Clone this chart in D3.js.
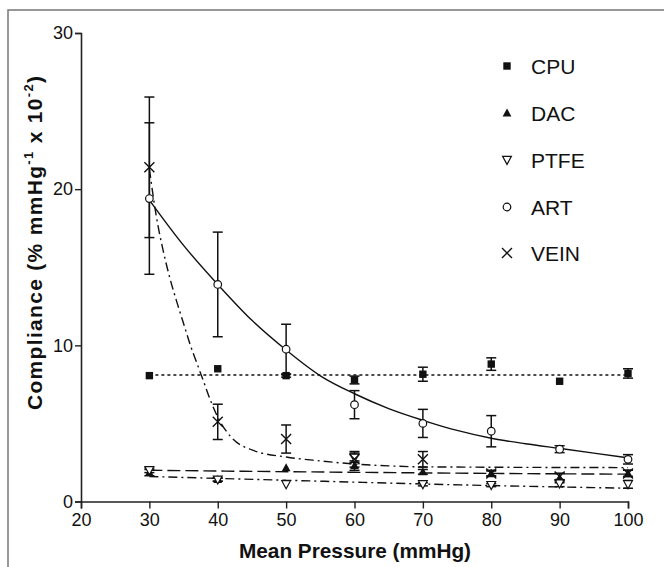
<!DOCTYPE html>
<html><head><meta charset="utf-8">
<script src="https://cdn.jsdelivr.net/npm/d3@7"></script>
<style>
html,body{margin:0;padding:0;background:#fff;}
svg{display:block;font-family:"Liberation Sans",Arial,sans-serif;}
</style></head>
<body><svg id="chart" width="664" height="567"></svg>
<script>
// ---------- data ----------
const pressures = [30, 40, 50, 60, 70, 80, 90, 100];
const cpuMean  = [8.06, 8.5, 8.06, 7.78, 8.15, 8.8, 7.7, 8.2];
const cpuErr   = [0, 0, 0.1, 0.25, 0.45, 0.4, 0, 0.3];
const dacMean  = [1.85, 1.4, 2.15, 2.3, 1.9, 1.8, 1.5, 1.8];
const dacErr   = [0.2, 0.1, 0, 0.3, 0.15, 0.15, 0.3, 0.2];
const ptfeMean = [2.0, 1.4, 1.1, 2.8, 1.1, 1.05, 1.15, 1.1];
const ptfeErr  = [0.15, 0.1, 0, 0.3, 0.1, 0.1, 0.2, 0.25];
const artMean  = [19.4, 13.9, 9.75, 6.2, 5.0, 4.5, 3.35, 2.7];
const artErr   = [4.85, 3.35, 1.6, 0.9, 0.9, 1.0, 0.22, 0.3];
const veinMean = [21.4, 5.1, 4.0, 2.7, 2.7, 1.8, 1.6, 1.8];
const veinErr  = [4.5, 1.13, 0.9, 0.5, 0.5, 0.2, 0.2, 0.2];

// fitted curves
const cpuFitX  = [30, 100];
const cpuFitY  = [8.1, 8.1];
const dacFitX  = [30, 45, 60, 80, 100];
const dacFitY  = [2.0, 1.93, 1.87, 1.8, 1.75];
const ptfeFitX = [30, 40, 50, 60, 70, 80, 90, 100];
const ptfeFitY = [1.6, 1.48, 1.36, 1.24, 1.12, 1.02, 0.93, 0.85];
const artFitX  = [30, 35, 40, 45, 50, 55, 60, 65, 70, 75, 80, 85, 90, 95, 100];
const artFitY  = [19.3, 16.4, 13.9, 11.6, 9.7, 8.05, 6.9, 5.95, 5.2, 4.55, 4.05, 3.7, 3.4, 3.1, 2.8];
const veinFitX = [30, 31, 32, 33, 34, 35, 36, 37, 38, 39, 40, 42, 45, 50, 55, 60, 65, 70, 100];
const veinFitY = [21.3, 18.3, 16.1, 14.3, 12.8, 11.4, 10.0, 8.8, 7.6, 6.4, 5.4, 4.1, 3.3, 2.85, 2.6, 2.4, 2.28, 2.22, 2.17];

const xTicks = [20, 30, 40, 50, 60, 70, 80, 90, 100];
const yTicks = [0, 10, 20, 30];
const seriesNames = ["CPU", "DAC", "PTFE", "ART", "VEIN"];

// ---------- drawing ----------
const svg = d3.select("#chart");
const x = d3.scaleLinear().domain([20, 100]).range([81, 628]);
const y = d3.scaleLinear().domain([0, 30]).range([501.5, 33]);

// frame
svg.append("rect").attr("x", 8).attr("y", 10).attr("width", 700).attr("height", 600)
  .attr("fill", "none").attr("stroke", "#777").attr("stroke-width", 1.5);

// axes
const xAxis = svg.append("g").attr("transform", `translate(0,${y(0)})`)
  .call(d3.axisBottom(x).tickValues(xTicks).tickSize(7).tickPadding(5).tickFormat(d3.format("d")));
const yAxis = svg.append("g").attr("transform", `translate(${x(20)},0)`)
  .call(d3.axisLeft(y).tickValues(yTicks).tickSize(6).tickPadding(2).tickFormat(d3.format("d")));
[xAxis, yAxis].forEach(g => {
  g.select(".domain").attr("stroke", "#222").attr("stroke-width", 1.6);
  g.selectAll(".tick line").attr("stroke", "#222").attr("stroke-width", 1.4);
  g.selectAll(".tick text").attr("fill", "#111").style("font-size", "18px")
    .style("font-family", "'Liberation Sans', Arial, sans-serif");
});

// axis titles
svg.append("text").attr("x", 355).attr("y", 558).attr("text-anchor", "middle")
  .style("font-size", "21px").style("font-weight", "bold").attr("fill", "#111")
  .attr("textLength", 232).attr("lengthAdjust", "spacingAndGlyphs")
  .text("Mean Pressure (mmHg)");
const yt = svg.append("text").attr("transform", "translate(42,243) rotate(-90)")
  .attr("text-anchor", "middle").style("font-size", "21px").style("font-weight", "bold").attr("fill", "#111")
  .attr("textLength", 334).attr("lengthAdjust", "spacing");
yt.append("tspan").text("Compliance (% mmHg");
yt.append("tspan").attr("dy", -9).style("font-size", "13px").text("-1");
yt.append("tspan").attr("dy", 9).text(" x 10");
yt.append("tspan").attr("dy", -9).style("font-size", "13px").text("-2");
yt.append("tspan").attr("dy", 9).text(")");

// fit lines
const line = d3.line().x(d => x(d[0])).y(d => y(d[1])).curve(d3.curveMonotoneX);
const fits = [
  {xs: cpuFitX, ys: cpuFitY, dash: "3,3"},
  {xs: dacFitX, ys: dacFitY, dash: "13,5"},
  {xs: ptfeFitX, ys: ptfeFitY, dash: "9,4,2,4"},
  {xs: artFitX, ys: artFitY, dash: null},
  {xs: veinFitX, ys: veinFitY, dash: "9,4,2,4"}
];
fits.forEach(f => {
  svg.append("path").datum(f.xs.map((v, i) => [v, f.ys[i]]))
    .attr("d", line).attr("fill", "none").attr("stroke", "#111").attr("stroke-width", 1.4)
    .attr("stroke-dasharray", f.dash);
});

// error bars
const series = [
  {name: "CPU", mean: cpuMean, err: cpuErr, sym: "square"},
  {name: "DAC", mean: dacMean, err: dacErr, sym: "tri"},
  {name: "PTFE", mean: ptfeMean, err: ptfeErr, sym: "dtri"},
  {name: "ART", mean: artMean, err: artErr, sym: "circle"},
  {name: "VEIN", mean: veinMean, err: veinErr, sym: "cross"}
];
series.forEach(s => {
  s.mean.forEach((m, i) => {
    const e = s.err[i];
    if (!e) return;
    const cx = x(pressures[i]);
    const g = svg.append("g").attr("stroke", "#111").attr("stroke-width", 1.5);
    g.append("line").attr("x1", cx).attr("x2", cx).attr("y1", y(m - e)).attr("y2", y(m + e));
    g.append("line").attr("x1", cx - 5).attr("x2", cx + 5).attr("y1", y(m - e)).attr("y2", y(m - e));
    g.append("line").attr("x1", cx - 5).attr("x2", cx + 5).attr("y1", y(m + e)).attr("y2", y(m + e));
  });
});

function drawSymbol(g, sym, cx, cy) {
  if (sym === "square") {
    g.append("rect").attr("x", cx - 3.7).attr("y", cy - 3.7).attr("width", 7.4).attr("height", 7.4).attr("fill", "#111");
  } else if (sym === "tri") {
    g.append("path").attr("d", `M${cx},${cy - 4.6}L${cx + 4.4},${cy + 3.4}L${cx - 4.4},${cy + 3.4}Z`).attr("fill", "#111");
  } else if (sym === "dtri") {
    g.append("path").attr("d", `M${cx - 4.4},${cy - 3.6}L${cx + 4.4},${cy - 3.6}L${cx},${cy + 4.4}Z`)
      .attr("fill", "#fff").attr("stroke", "#111").attr("stroke-width", 1.2);
  } else if (sym === "circle") {
    g.append("circle").attr("cx", cx).attr("cy", cy).attr("r", 3.8)
      .attr("fill", "#fff").attr("stroke", "#111").attr("stroke-width", 1.2);
  } else if (sym === "cross") {
    g.append("path").attr("d", `M${cx - 5},${cy - 5}L${cx + 5},${cy + 5}M${cx + 5},${cy - 5}L${cx - 5},${cy + 5}`)
      .attr("stroke", "#111").attr("stroke-width", 1.4).attr("fill", "none");
  }
}

series.forEach(s => {
  const g = svg.append("g");
  s.mean.forEach((m, i) => drawSymbol(g, s.sym, x(pressures[i]), y(m)));
});

// legend
const legY = [66, 113, 160, 207, 253];
series.forEach((s, i) => {
  const g = svg.append("g");
  drawSymbol(g, s.sym, 507, legY[i]);
  g.append("text").attr("x", 531).attr("y", legY[i]).attr("dy", "0.36em")
    .style("font-size", "21px").attr("fill", "#111").text(seriesNames[i]);
});
</script></body></html>
